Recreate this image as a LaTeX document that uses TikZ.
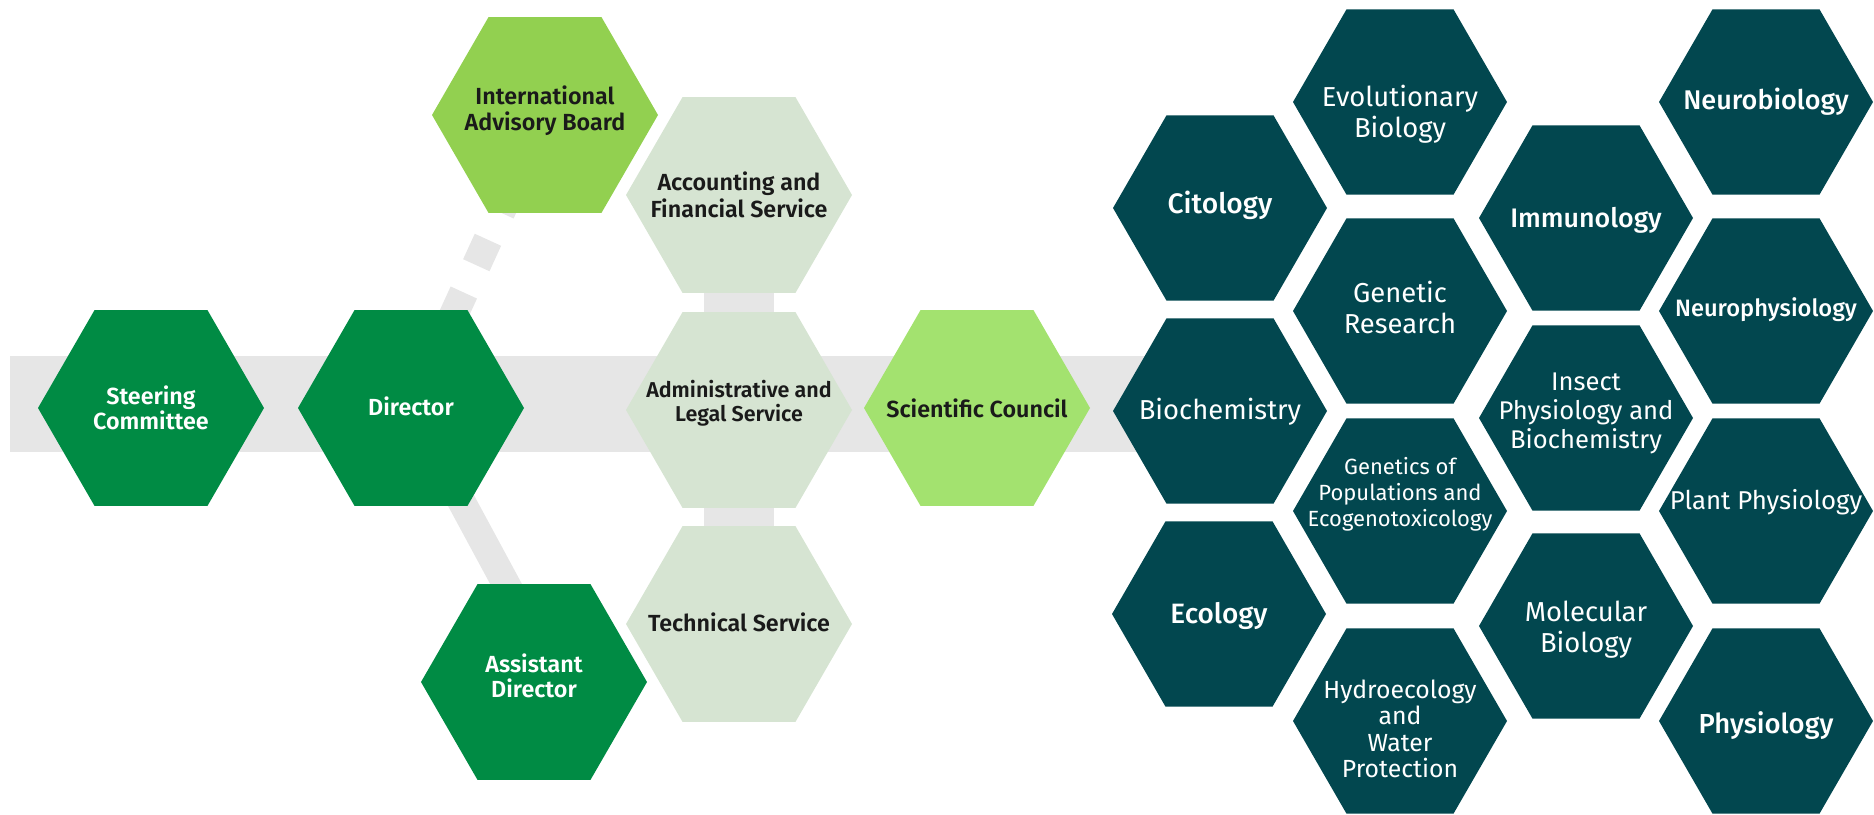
\documentclass[tikz,border=0pt]{standalone}
\usepackage{fontspec}
\setmainfont{Fira Sans}
\newfontfamily\semib{Fira Sans SemiBold}
\newfontfamily\medf{Fira Sans Medium}
\usetikzlibrary{shapes.geometric,calc}
\definecolor{dkgreen}{HTML}{008B44}
\definecolor{ltgreen}{HTML}{92D050}
\definecolor{scigreen}{HTML}{A3E26F}
\definecolor{svcgreen}{HTML}{D6E4D2}
\definecolor{hexteal}{HTML}{02474F}
\definecolor{bandgray}{HTML}{E6E6E6}
\definecolor{txtdark}{HTML}{1A1A1A}
\pgfdeclarelayer{bg}
\pgfsetlayers{bg,main}
\tikzset{
  hexL/.style={regular polygon, regular polygon sides=6, minimum size=226pt, inner sep=0pt, outer sep=0pt, draw=none},
  hexR/.style={regular polygon, regular polygon sides=6, minimum size=214pt, inner sep=0pt, outer sep=0pt, draw=none, fill=hexteal},
  ltxt/.style={align=center, inner sep=0pt, font=\semib\fontsize{23.3}{25.5}\selectfont},
  ltxtW/.style={ltxt, text=white},
  ltxtD/.style={ltxt, text=txtdark},
  rbig/.style={align=center, inner sep=0pt, text=white, font=\medf\fontsize{27.5}{31}\selectfont},
  rreg/.style={align=center, inner sep=0pt, text=white, font=\fontsize{27.4}{31}\selectfont},
  connector/.style={draw=bandgray, line cap=butt},
}
\begin{document}
\begin{tikzpicture}[x=1pt, y=-1pt]
\useasboundingbox (0,0) rectangle (1874,814);
% left part
\node[hexL, fill=dkgreen, label={[ltxtW]center:Steering\\Committee}] (st) at (151,408) {};
\node[hexL, fill=dkgreen, label={[ltxtW, yshift=2pt]center:Director}] (dir) at (411,408) {};
\node[hexL, fill=ltgreen, label={[ltxtD, yshift=4.5pt]center:International\\Advisory Board}] (iab) at (545,115) {};
\node[hexL, fill=svcgreen, label={[ltxtD, font=\semib\fontsize{23.3}{26.5}\selectfont]center:Accounting and\\Financial Service}] (acc) at (739,195) {};
\node[hexL, fill=svcgreen, label={[ltxtD, yshift=7pt, font=\semib\fontsize{21.5}{24.5}\selectfont]center:Administrative and\\Legal Service}] (adm) at (739,410) {};
\node[hexL, fill=svcgreen, label={[ltxtD, yshift=2pt]center:Technical Service}] (tech) at (739,624) {};
\node[hexL, fill=dkgreen, label={[ltxtW, yshift=6pt]center:Assistant\\Director}] (asst) at (534,682) {};
\node[hexL, fill=scigreen, label={[ltxtD]center:Scientific Council}] (sci) at (977,408) {};
% right part, column 1
\node[hexR, label={[rbig, yshift=3pt, font=\medf\fontsize{28.2}{31}\selectfont]center:Citology}] (cit) at (1220,208) {};
\node[hexR, label={[rreg, yshift=-1pt]center:Biochemistry}] (bio) at (1220,411) {};
\node[hexR, label={[rbig, yshift=-2pt, font=\medf\fontsize{28}{31}\selectfont]center:Ecology}] (eco) at (1219,614) {};
% column 2
\node[hexR, label={[rreg, yshift=-12pt]center:Evolutionary\\Biology}] (evo) at (1400,102) {};
\node[hexR, label={[rreg, yshift=4pt]center:Genetic\\Research}] (gen) at (1400,311) {};
\node[hexR, label={[rreg, yshift=17pt, font=\fontsize{22}{25.8}\selectfont]center:Genetics of\\Populations and\\Ecogenotoxicology}] (gpop) at (1400,511) {};
\node[hexR, label={[rreg, yshift=-8pt, font=\fontsize{24.8}{26.4}\selectfont]center:Hydroecology\\and\\Water\\Protection}] (hyd) at (1400,721) {};
% column 3
\node[hexR, label={[rbig, yshift=-2pt, font=\medf\fontsize{26.8}{31}\selectfont]center:Immunology}] (imm) at (1586,218) {};
\node[hexR, label={[rreg, yshift=5pt, font=\fontsize{25.6}{29}\selectfont]center:Insect\\Physiology and\\Biochemistry}] (ins) at (1586,418) {};
\node[hexR, label={[rreg, yshift=-4pt]center:Molecular\\Biology}] (mol) at (1586,626) {};
% column 4
\node[hexR, label={[rbig, font=\medf\fontsize{27}{31}\selectfont]center:Neurobiology}] (nbio) at (1766,102) {};
\node[hexR, label={[rbig, yshift=1pt, font=\medf\fontsize{23.7}{27}\selectfont]center:Neurophysiology}] (nphys) at (1766,311) {};
\node[hexR, label={[rreg, yshift=9pt, font=\fontsize{25.8}{29}\selectfont]center:Plant Physiology}] (plant) at (1766,511) {};
\node[hexR, label={[rbig, yshift=-5pt]center:Physiology}] (phys) at (1766,721) {};
% connectors behind
\coordinate (bandL) at (10,404);
\coordinate (bandR) at (1220,404);
\begin{pgfonlayer}{bg}
  \draw[connector, line width=96pt] (bandL) -- (bandR);
  \draw[connector, line width=70pt] (acc.center) -- (tech.center);
  \draw[connector, line width=28pt] (dir.center) -- ($(asst.center)+(25,0)$);
  \draw[connector, line width=29pt, dash pattern=on 28pt off 30pt, dash phase=17pt] (dir.center) -- (iab.center);
\end{pgfonlayer}
\end{tikzpicture}
\end{document}
